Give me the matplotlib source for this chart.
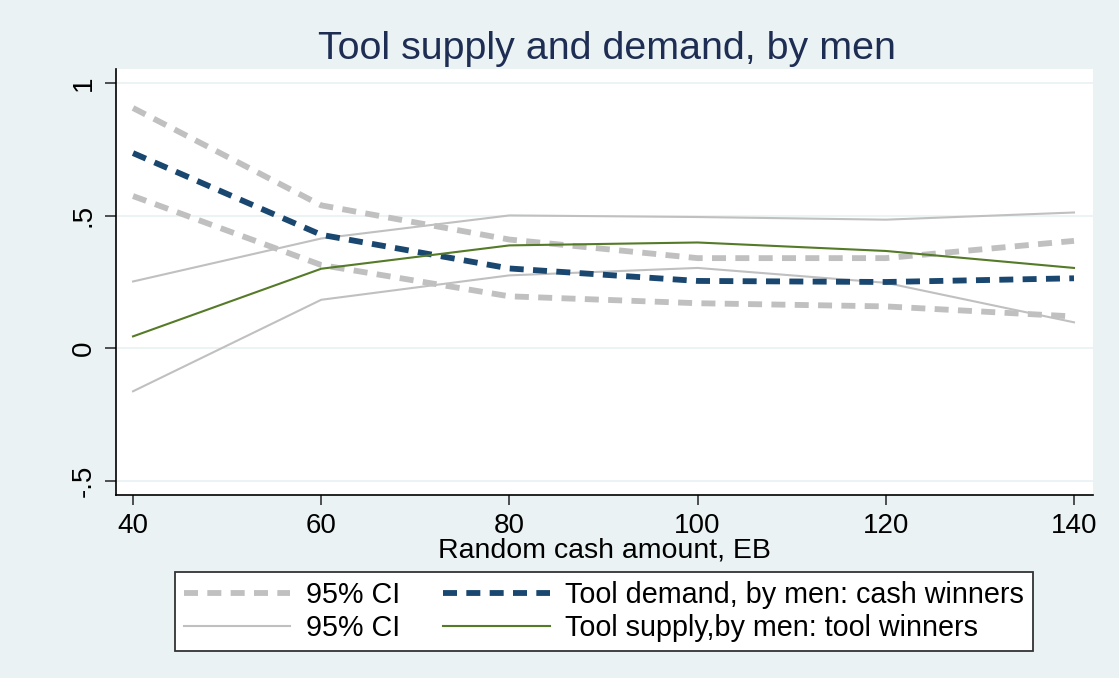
import matplotlib.pyplot as plt
import matplotlib
from matplotlib.lines import Line2D

matplotlib.rc("font", family=['Liberation Sans', 'DejaVu Sans'])

# data
cash = [40, 60, 80, 100, 120, 140]
demand = [0.736, 0.428, 0.301, 0.254, 0.250, 0.264]
demand_hi = [0.906, 0.539, 0.410, 0.340, 0.340, 0.405]
demand_lo = [0.574, 0.314, 0.196, 0.170, 0.158, 0.120]
supply = [0.045, 0.300, 0.388, 0.399, 0.367, 0.303]
supply_hi = [0.252, 0.414, 0.501, 0.495, 0.485, 0.512]
supply_lo = [-0.162, 0.183, 0.275, 0.303, 0.247, 0.098]

yticks = [-0.5, 0, 0.5, 1]
ytick_labels = ['-.5', '0', '.5', '1']

bg = '#EAF2F3'
gray = '#C0C0C0'
navy = '#1A476F'
green = '#557A28'

W, H = 1119, 678
fig = plt.figure(figsize=(W / 100, H / 100), dpi=100, facecolor=bg)
ax = fig.add_axes([116 / W, 1 - 495 / H, (1093 - 116) / W, (495 - 69) / H])
ax.set_facecolor('white')

for v in yticks:
    ax.axhline(v, color=bg, lw=1.3, zorder=1)

dash = (2.4, 1.6)
ax.plot(cash, demand_hi, color=gray, lw=4.2, dashes=dash, zorder=3)
ax.plot(cash, demand_lo, color=gray, lw=4.2, dashes=dash, zorder=3)
ax.plot(cash, supply_hi, color=gray, lw=1.5, zorder=3)
ax.plot(cash, supply_lo, color=gray, lw=1.5, zorder=3)
ax.plot(cash, demand, color=navy, lw=4.2, dashes=dash, zorder=4)
ax.plot(cash, supply, color=green, lw=1.5, zorder=5)

ax.set_xlim(38.19, 142.02)
ax.set_ylim(-0.553, 1.053)
ax.set_xticks(cash)
ax.set_xticklabels([str(c) for c in cash], fontsize=20)
ax.set_yticks(yticks)
ax.set_yticklabels(ytick_labels, fontsize=20, rotation=90, va='center')
ax.tick_params(axis='y', length=8, width=1.2, color='#333333', pad=6)
ax.tick_params(axis='x', length=7, width=1.2, color='#333333', pad=6)

for s in ['top', 'right']:
    ax.spines[s].set_visible(False)
for s in ['left', 'bottom']:
    ax.spines[s].set_color('black')
    ax.spines[s].set_linewidth(1.2)

ax.set_xlabel('Random cash amount, EB', fontsize=20.5, labelpad=-1)

fig.text(607 / W, 1 - 49 / H, 'Tool supply and demand, by men',
         fontsize=28.4, color='#1E2D53', ha='center', va='center')

handles = [
    Line2D([], [], color=gray, lw=4.2, dashes=dash),
    Line2D([], [], color=gray, lw=1.5),
    Line2D([], [], color=navy, lw=4.2, dashes=dash),
    Line2D([], [], color=green, lw=1.5),
]
labels = ['95% CI', '95% CI', 'Tool demand, by men: cash winners',
          'Tool supply,by men: tool winners']
leg = fig.legend(handles, labels, ncol=2, loc='center',
                 bbox_to_anchor=(604 / W, 1 - 611.5 / H), fontsize=20.7,
                 frameon=True, fancybox=False, handlelength=3.7,
                 handletextpad=0.55, columnspacing=1.5, labelspacing=0.2,
                 borderpad=0.3, borderaxespad=0, framealpha=1)
leg.get_frame().set_edgecolor('#333333')
leg.get_frame().set_linewidth(1.3)
leg.get_frame().set_facecolor('white')

plt.savefig('out.png', dpi=100, facecolor=bg)
